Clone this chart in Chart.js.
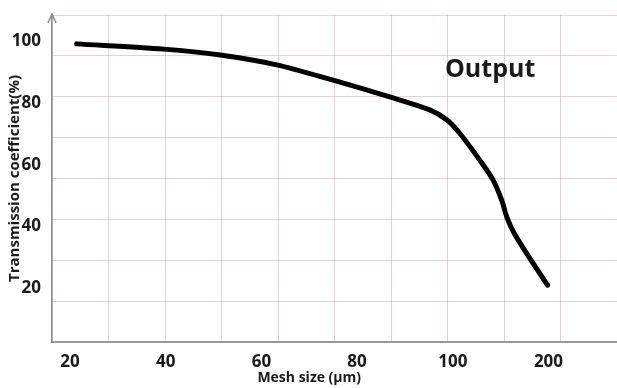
<!DOCTYPE html>
<html>
<head>
<meta charset="utf-8">
<script src="https://cdn.jsdelivr.net/npm/chart.js@4/dist/chart.umd.min.js"></script>
<style>
  html, body { margin: 0; padding: 0; background: #fff; }
  #wrap { width: 617px; height: 388px; }
</style>
</head>
<body>
<div id="wrap"><canvas id="meshChart" width="617" height="388"></canvas></div>
<script>
// Veriler (x: etiket sırasına göre konum, 0 = 20 µm ... 5 = 200 µm)
const meshLabels = ['20', '40', '60', '80', '100', '200'];
const yTickValues = [20, 40, 60, 80, 100];
const curvePos = [0.07, 0.98, 1.57, 2.16, 2.74, 3.34, 3.76, 3.94, 4.07, 4.28, 4.42, 4.51, 4.57, 4.64, 4.77, 4.99];
const transmission = [99.2, 97.5, 95.6, 92.4, 87.5, 82.0, 77.8, 74.5, 70.3, 61.6, 55.1, 48.6, 42.6, 37.9, 31.4, 21.0];

const gridColor = 'rgba(180,145,145,0.4)';
const fontFamily = '"Open Sans", "Noto Sans", sans-serif';
const tickFont = { family: fontFamily, size: 17, weight: 'bold' };

// Ok, x başlığı ve "Output" yazısı
const decor = {
    id: 'decor',
    afterDraw(chart) {
        const ctx = chart.ctx;
        const x = chart.scales.x, y = chart.scales.y;
        const area = chart.chartArea;
        ctx.save();
        // y ekseni oku
        ctx.strokeStyle = '#8a8a8a';
        ctx.lineWidth = 1.5;
        ctx.beginPath();
        ctx.moveTo(area.left, area.top + 1);
        ctx.lineTo(area.left, area.top - 1);
        ctx.moveTo(area.left - 4, area.top + 8);
        ctx.lineTo(area.left, area.top - 1);
        ctx.lineTo(area.left + 4, area.top + 8);
        ctx.stroke();
        // x başlığı
        ctx.fillStyle = '#1a1a1a';
        ctx.textAlign = 'center';
        ctx.textBaseline = 'middle';
        ctx.font = 'bold 14px ' + fontFamily;
        ctx.fillText('Mesh size (\u00b5m)', x.getPixelForValue(2.5), 378);
        // Output
        ctx.font = 'bold 25px ' + fontFamily;
        ctx.fillText('Output', x.getPixelForValue(4.39), y.getPixelForValue(90.7));
        ctx.restore();
    }
};

const ctxMesh = document.getElementById('meshChart').getContext('2d');
new Chart(ctxMesh, {
    type: 'line',
    data: {
        datasets: [{
            data: curvePos.map((p, i) => ({ x: p, y: transmission[i] })),
            borderColor: '#000',
            borderWidth: 5,
            pointRadius: 0,
            fill: false,
            tension: 0.3,
            borderCapStyle: 'round',
            borderJoinStyle: 'round',
            xAxisID: 'x',
            yAxisID: 'y'
        }]
    },
    options: {
        responsive: false,
        animation: false,
        devicePixelRatio: 1,
        layout: { padding: { top: 15, right: 0, left: 0, bottom: 0 } },
        plugins: { legend: { display: false }, tooltip: { enabled: false } },
        scales: {
            x: {
                type: 'linear',
                position: 'bottom',
                min: -0.188,
                max: 5.716,
                grid: { display: false },
                border: { display: true, color: '#999', width: 2 },
                afterBuildTicks: s => { s.ticks = meshLabels.map((_, i) => ({ value: i })); },
                ticks: {
                    font: tickFont,
                    color: '#1a1a1a',
                    padding: 2,
                    maxRotation: 0,
                    callback: v => meshLabels[v]
                },
                afterFit: s => { s.height = 46; s.paddingLeft = 0; s.paddingRight = 0; }
            },
            y: {
                type: 'linear',
                position: 'left',
                min: 2.56,
                max: 108.56,
                grid: { display: false },
                border: { display: true, color: '#8a8a8a', width: 1.5 },
                afterBuildTicks: s => { s.ticks = yTickValues.map(v => ({ value: v })); },
                ticks: { font: tickFont, color: '#1a1a1a', padding: 3 },
                title: {
                    display: true,
                    text: 'Transmission coefficient(%)',
                    color: '#1a1a1a',
                    font: { family: fontFamily, size: 15, weight: 'bold' },
                    padding: { top: 6, bottom: 0 }
                },
                afterFit: s => { s.width = 52; s.paddingTop = 0; s.paddingBottom = 0; }
            },
            xg: {
                type: 'linear',
                position: 'bottom',
                min: 0,
                max: 10,
                ticks: { display: false, stepSize: 1 },
                grid: { color: gridColor, lineWidth: 1, drawTicks: false },
                border: { display: false },
                afterFit: s => { s.height = 0; }
            },
            yg: {
                type: 'linear',
                position: 'left',
                min: 0,
                max: 8,
                ticks: { display: false, stepSize: 1 },
                grid: { color: gridColor, lineWidth: 1, drawTicks: false },
                border: { display: false },
                afterFit: s => { s.width = 0; }
            }
        }
    },
    plugins: [decor]
});
</script>
</body>
</html>
